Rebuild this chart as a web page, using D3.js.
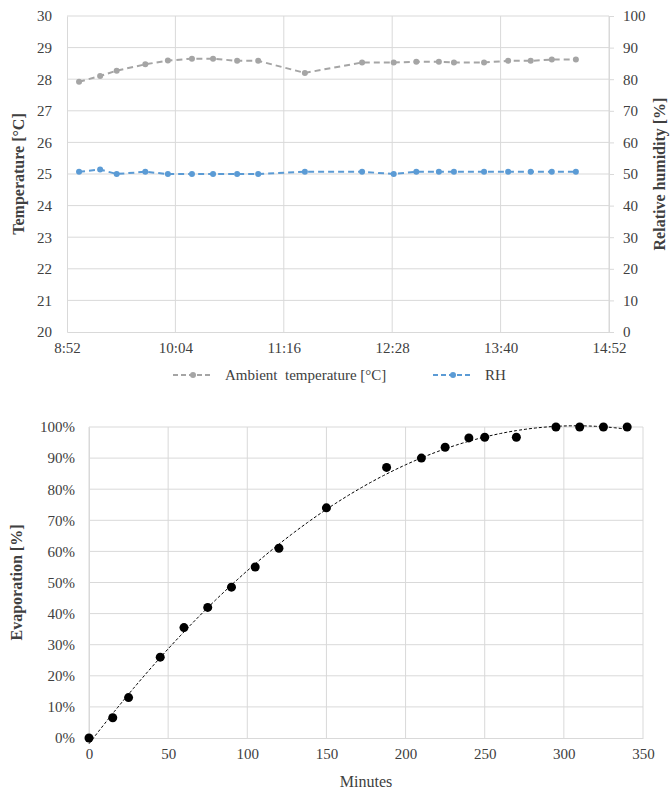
<!DOCTYPE html>
<html>
<head>
<meta charset="utf-8">
<script src="https://cdn.jsdelivr.net/npm/d3@7"></script>
<style>
  body { margin: 0; background: #fff; }
  svg text { font-family: "Liberation Serif", "DejaVu Serif", serif !important; fill: #404040; }
</style>
</head>
<body>
<div id="chart"></div>
<script>
//* data: top chart (ambient conditions)
var times = ["9:00","9:14","9:25","9:44","9:59","10:15","10:29","10:45","10:59","11:30",
             "12:08","12:29","12:44","12:59","13:09","13:29","13:45","14:00","14:14","14:30"]
var temperature = [27.92,28.10,28.27,28.47,28.59,28.65,28.65,28.58,28.58,28.20,
                   28.53,28.53,28.55,28.55,28.53,28.53,28.58,28.58,28.62,28.62]
var humidity = [50.7,51.4,50.0,50.7,50.0,50.0,50.0,50.0,50.0,50.7,
                50.7,50.0,50.7,50.7,50.7,50.7,50.7,50.7,50.7,50.7]
var timeTicks = ["8:52","10:04","11:16","12:28","13:40","14:52"]

//* data: bottom chart (evaporation)
var minutes = [0,15,25,45,60,75,90,105,120,150,188,210,225,240,250,270,295,310,325,340]
var evaporation = [0,6.5,13,26,35.5,42,48.5,55,61,74,87,90,93.5,96.5,96.7,96.7,100,100,100,100]

var W = 671, H = 796
var grid = "#d9d9d9", grey = "#a5a5a5", blue = "#5b9bd5"
var serif = "'Liberation Serif', 'DejaVu Serif', serif"

var svg = d3.select("#chart").append("svg")
    .attr("width", W)
    .attr("height", H)
    .attr("font-family", serif)

// ---------------- top chart ----------------
var parse = d3.timeParse("%H:%M")
var top1 = {left: 67, right: 609, top: 16, bottom: 332}

var x1 = d3.scaleTime()
    .domain([parse("8:52"), parse("14:52")])
    .range([top1.left, top1.right])
var yT = d3.scaleLinear().domain([20, 30]).range([top1.bottom, top1.top])
var yH = d3.scaleLinear().domain([0, 100]).range([top1.bottom, top1.top])

var g1 = svg.append("g")

// gridlines
g1.selectAll("hgrid")
    .data(d3.range(21, 31))
    .enter().append("line")
    .attr("x1", top1.left).attr("x2", top1.right)
    .attr("y1", function(d){ return yT(d) }).attr("y2", function(d){ return yT(d) })
    .attr("stroke", grid)
g1.selectAll("vgrid")
    .data(timeTicks.slice(1))
    .enter().append("line")
    .attr("x1", function(d){ return x1(parse(d)) }).attr("x2", function(d){ return x1(parse(d)) })
    .attr("y1", top1.top).attr("y2", top1.bottom)
    .attr("stroke", grid)

// axes
var axL = g1.append("g")
    .attr("transform", "translate(" + top1.left + ",0)")
    .call(d3.axisLeft(yT).tickValues(d3.range(20, 31)).tickSize(0).tickPadding(15))
var axR = g1.append("g")
    .attr("transform", "translate(" + top1.right + ",0)")
    .call(d3.axisRight(yH).tickValues(d3.range(0, 101, 10)).tickSize(5).tickPadding(9))
var axB = g1.append("g")
    .attr("transform", "translate(0," + top1.bottom + ")")
    .call(d3.axisBottom(x1).tickValues(timeTicks.map(parse)).tickFormat(function(d){ return d3.timeFormat("%-H:%M")(d) }).tickSize(0).tickPadding(10))
;[axL, axR, axB].forEach(function(a){
    a.attr("font-family", serif)
    a.selectAll(".domain").attr("stroke", grid)
    a.selectAll(".tick line").attr("stroke", grid)
    a.selectAll("text").attr("font-size", "15px").attr("fill", "#404040")
})

// series
function drawSeries(g, values, yScale, color){
    var line = d3.line()
        .x(function(d, i){ return x1(parse(times[i])) })
        .y(function(d){ return yScale(d) })
    g.append("path")
        .datum(values)
        .attr("d", line)
        .attr("fill", "none")
        .attr("stroke", color)
        .attr("stroke-width", 2)
        .attr("stroke-dasharray", "6,4")
    g.selectAll("pt")
        .data(values)
        .enter().append("circle")
        .attr("cx", function(d, i){ return x1(parse(times[i])) })
        .attr("cy", function(d){ return yScale(d) })
        .attr("r", 3)
        .attr("fill", color)
}
drawSeries(g1, temperature, yT, grey)
drawSeries(g1, humidity, yH, blue)

// axis titles
g1.append("text")
    .attr("transform", "translate(24," + ((top1.top + top1.bottom) / 2) + ") rotate(-90)")
    .attr("text-anchor", "middle")
    .attr("font-size", "16px").attr("font-weight", "bold").attr("fill", "#262626")
    .text("Temperature [°C]")
g1.append("text")
    .attr("transform", "translate(665," + ((top1.top + top1.bottom) / 2) + ") rotate(-90)")
    .attr("text-anchor", "middle")
    .attr("font-size", "16px").attr("font-weight", "bold").attr("fill", "#262626")
    .text("Relative humidity [%]")

// legend
var legend = [
    {label: "Ambient  temperature [°C]", color: grey, x: 173},
    {label: "RH", color: blue, x: 433}
]
var lg = g1.selectAll("legend").data(legend).enter().append("g")
    .attr("transform", function(d){ return "translate(" + d.x + ",375)" })
lg.append("line")
    .attr("x1", 0).attr("x2", 40).attr("y1", 0).attr("y2", 0)
    .attr("stroke", function(d){ return d.color })
    .attr("stroke-width", 2).attr("stroke-dasharray", "5,3")
lg.append("circle").attr("cx", 20).attr("cy", 0).attr("r", 3)
    .attr("fill", function(d){ return d.color })
lg.append("text")
    .attr("x", 52).attr("y", 5)
    .attr("font-size", "15px")
    .style("white-space", "pre")
    .text(function(d){ return d.label })

// ---------------- bottom chart ----------------
var bot = {left: 89, right: 643, top: 427, bottom: 738}
var x2 = d3.scaleLinear().domain([0, 350]).range([bot.left, bot.right])
var y2 = d3.scaleLinear().domain([0, 100]).range([bot.bottom, bot.top])
var g2 = svg.append("g")

g2.selectAll("hgrid2")
    .data(d3.range(10, 101, 10))
    .enter().append("line")
    .attr("x1", bot.left).attr("x2", bot.right)
    .attr("y1", function(d){ return y2(d) }).attr("y2", function(d){ return y2(d) })
    .attr("stroke", grid)
g2.selectAll("vgrid2")
    .data(d3.range(0, 351, 50))
    .enter().append("line")
    .attr("x1", function(d){ return x2(d) }).attr("x2", function(d){ return x2(d) })
    .attr("y1", bot.top).attr("y2", bot.bottom)
    .attr("stroke", grid)

var axL2 = g2.append("g")
    .attr("transform", "translate(" + bot.left + ",0)")
    .call(d3.axisLeft(y2).tickValues(d3.range(0, 101, 10)).tickFormat(function(d){ return d + "%" }).tickSize(0).tickPadding(14))
var axB2 = g2.append("g")
    .attr("transform", "translate(0," + bot.bottom + ")")
    .call(d3.axisBottom(x2).tickValues(d3.range(0, 351, 50)).tickSize(0).tickPadding(10))
;[axL2, axB2].forEach(function(a){
    a.attr("font-family", serif)
    a.selectAll(".domain").attr("stroke", grid)
    a.selectAll("text").attr("font-size", "15px").attr("fill", "#404040")
})

//* quadratic trendline (least squares fitted to the evaporation data)
function polyfit2(xs, ys){
    var s = [0,0,0,0,0], t = [0,0,0]
    xs.forEach(function(xv, i){
        for (var k = 0; k < 5; k++) s[k] += Math.pow(xv, k)
        for (var k = 0; k < 3; k++) t[k] += ys[i] * Math.pow(xv, k)
    })
    var A = [[s[0],s[1],s[2],t[0]],[s[1],s[2],s[3],t[1]],[s[2],s[3],s[4],t[2]]]
    for (var c = 0; c < 3; c++){
        for (var r = c + 1; r < 3; r++){
            var f = A[r][c] / A[c][c]
            for (var k = c; k < 4; k++) A[r][k] -= f * A[c][k]
        }
    }
    var co = [0,0,0]
    for (var r = 2; r >= 0; r--){
        var v = A[r][3]
        for (var k = r + 1; k < 3; k++) v -= A[r][k] * co[k]
        co[r] = v / A[r][r]
    }
    return co
}
var co = polyfit2(minutes, evaporation)
var fitX = d3.range(0, 341, 2)
var trend = d3.line()
    .x(function(d){ return x2(d) })
    .y(function(d){ return y2(co[0] + co[1] * d + co[2] * d * d) })
g2.append("path")
    .datum(fitX)
    .attr("d", trend)
    .attr("fill", "none")
    .attr("stroke", "#000")
    .attr("stroke-width", 1)
    .attr("stroke-dasharray", "3,2")

g2.selectAll("evap")
    .data(minutes)
    .enter().append("circle")
    .attr("cx", function(d){ return x2(d) })
    .attr("cy", function(d, i){ return y2(evaporation[i]) })
    .attr("r", 4.5)
    .attr("fill", "#000")

g2.append("text")
    .attr("x", (bot.left + bot.right) / 2).attr("y", 787)
    .attr("text-anchor", "middle")
    .attr("font-size", "16px").attr("fill", "#262626")
    .text("Minutes")
g2.append("text")
    .attr("transform", "translate(22," + ((bot.top + bot.bottom) / 2) + ") rotate(-90)")
    .attr("text-anchor", "middle")
    .attr("font-size", "16px").attr("font-weight", "bold").attr("fill", "#262626")
    .text("Evaporation [%]")
</script>
</body>
</html>
